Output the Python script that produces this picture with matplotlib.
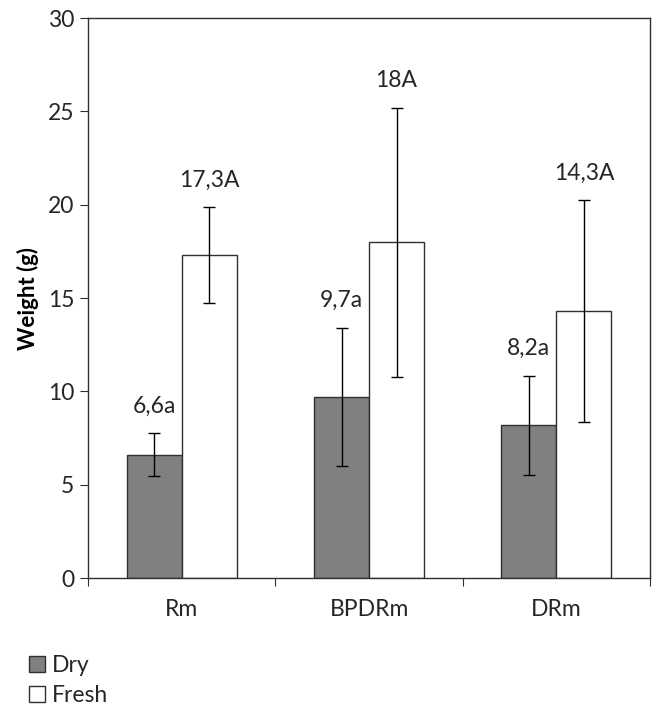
import matplotlib

matplotlib.use("Agg")
import matplotlib.pyplot as plt
import numpy as np

categories = ["Rm", "BPDRm", "DRm"]
dry = [6.6, 9.7, 8.2]
fresh = [17.3, 18.0, 14.3]
dry_err = [1.15, 3.7, 2.65]
fresh_err = [2.57, 7.2, 5.95]
dry_labels = ["6,6a", "9,7a", "8,2a"]
fresh_labels = ["17,3A", "18A", "14,3A"]

plt.rcParams["font.family"] = ["Lato", "DejaVu Sans"]
edge = "#303030"
txt = "#262626"
fs = 16.5

fig = plt.figure(figsize=(6.62, 7.06), dpi=100)
ax = fig.add_axes([0.133, 0.181, 0.849, 0.7935])

x = np.arange(len(categories))
w = 0.294
err_kw = dict(ecolor="black", elinewidth=1, capsize=4.5, capthick=1)
ax.bar(x - w / 2, dry, w, color="#808080", edgecolor=edge, linewidth=1,
       yerr=dry_err, error_kw=err_kw, label="Dry")
ax.bar(x + w / 2, fresh, w, color="white", edgecolor=edge, linewidth=1,
       yerr=fresh_err, error_kw=err_kw, label="Fresh")

for i in range(len(categories)):
    ax.annotate(dry_labels[i], (x[i] - w / 2, dry[i] + dry_err[i]),
                xytext=(0, 12), textcoords="offset points",
                ha="center", va="bottom", fontsize=fs, color=txt)
    ax.annotate(fresh_labels[i], (x[i] + w / 2, fresh[i] + fresh_err[i]),
                xytext=(0, 12), textcoords="offset points",
                ha="center", va="bottom", fontsize=fs, color=txt)

ax.set_xlim(-0.5, 2.5)
ax.set_ylim(0, 30)
ax.set_yticks(range(0, 31, 5))
ax.set_xticks([-0.5, 0.5, 1.5, 2.5])
ax.set_xticklabels([])
ax.set_xticks(x, minor=True)
ax.set_xticklabels(categories, minor=True)
ax.tick_params(axis="x", which="minor", length=0, pad=15, labelsize=fs, labelcolor=txt)
ax.tick_params(axis="x", which="major", length=6, direction="out", color=edge)
ax.tick_params(axis="y", length=6, direction="out", labelsize=fs, color=edge,
               labelcolor=txt, pad=4)
for s in ax.spines.values():
    s.set_color(edge)
    s.set_linewidth(1)
ax.set_ylabel("Weight (g)", fontsize=fs - 0.5, fontweight="bold", labelpad=6, color="black")

fig.legend(loc="upper left", bbox_to_anchor=(0.03, 0.085), frameon=False,
           fontsize=fs, handlelength=0.7, handleheight=0.7, handletextpad=0.3,
           labelspacing=0.4, borderaxespad=0, labelcolor=txt)

fig.savefig("out.png", dpi=100)
plt.close(fig)
